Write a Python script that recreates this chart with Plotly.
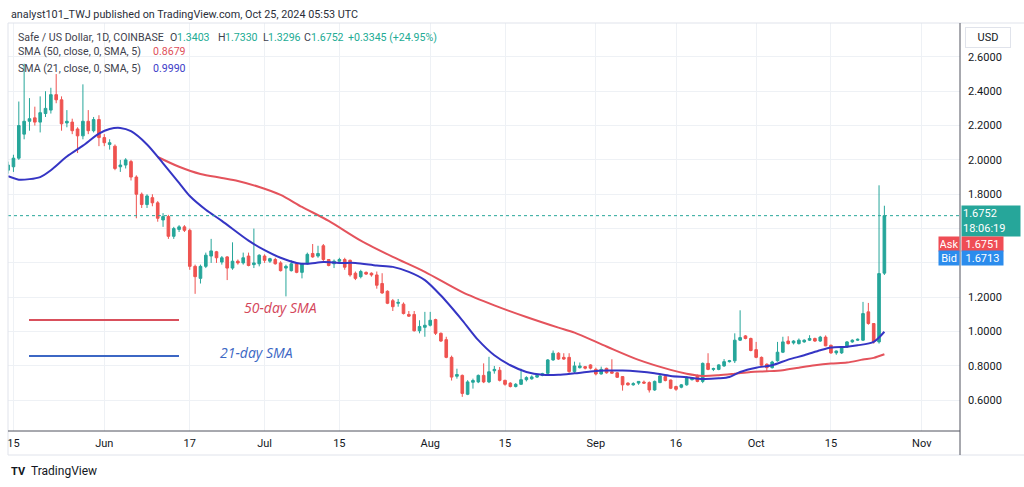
import plotly.graph_objects as go
import pandas as pd

# ---------------- data ----------------
dates = pd.date_range("2024-05-14", "2024-10-25", freq="D")

opens = [
    # May 14-31
    1.94, 1.96, 2.01, 2.15, 2.225, 2.245, 2.22, 2.27, 2.29, 2.38, 2.35, 2.215, 2.22, 2.18, 2.14, 2.225, 2.17, 2.235,
    # Jun
    2.13, 2.09, 2.08, 1.96, 1.97, 1.99, 1.90, 1.80, 1.74, 1.78, 1.75, 1.65, 1.67, 1.555, 1.595, 1.61, 1.59, 1.38, 1.31, 1.38,
    1.44, 1.465, 1.405, 1.435, 1.37, 1.41, 1.40, 1.44, 1.39, 1.395,
    # Jul
    1.44, 1.41, 1.42, 1.40, 1.37, 1.355, 1.395, 1.345, 1.395, 1.455, 1.44, 1.50, 1.42, 1.395, 1.41, 1.42, 1.415, 1.34, 1.32, 1.345,
    1.34, 1.33, 1.28, 1.235, 1.18, 1.165, 1.16, 1.10, 1.10, 1.005, 1.025,
    # Aug
    1.037, 1.07, 0.99, 0.953, 0.85, 0.74, 0.745, 0.635, 0.705, 0.707, 0.745, 0.707, 0.772, 0.775, 0.716, 0.70, 0.68, 0.693, 0.72, 0.725,
    0.735, 0.745, 0.757, 0.835, 0.874, 0.85, 0.85, 0.767, 0.79, 0.796, 0.806,
    # Sep
    0.78, 0.753, 0.786, 0.766, 0.76, 0.738, 0.70, 0.69, 0.70, 0.706, 0.703, 0.66, 0.703, 0.738, 0.718, 0.68, 0.676, 0.69, 0.72, 0.742,
    0.71, 0.815, 0.78, 0.78, 0.80, 0.825, 0.83, 0.95, 0.975, 0.96,
    # Oct 1-25
    0.895, 0.85, 0.81, 0.79, 0.83, 0.88, 0.945, 0.934, 0.93, 0.94, 0.95, 0.96, 0.945, 0.968, 0.92, 0.876, 0.876, 0.91, 0.94, 0.95,
    0.95, 1.115, 1.047, 0.94, 1.3403,
]
highs = [
    1.99, 2.03, 2.34, 2.56, 2.36, 2.31, 2.37, 2.40, 2.42, 2.50, 2.37, 2.29, 2.24, 2.19, 2.44, 2.29, 2.25, 2.26,
    2.15, 2.12, 2.09, 2.00, 2.01, 2.00, 1.91, 1.81, 1.80, 1.80, 1.76, 1.69, 1.68, 1.61, 1.62, 1.62, 1.60, 1.39, 1.39, 1.46,
    1.54, 1.47, 1.44, 1.44, 1.52, 1.42, 1.46, 1.46, 1.60, 1.45,
    1.45, 1.43, 1.43, 1.41, 1.39, 1.415, 1.40, 1.40, 1.46, 1.51, 1.50, 1.51, 1.42, 1.42, 1.43, 1.43, 1.42, 1.35, 1.36, 1.35,
    1.345, 1.35, 1.34, 1.24, 1.19, 1.19, 1.17, 1.12, 1.12, 1.066, 1.115,
    1.115, 1.075, 0.995, 0.97, 0.86, 0.784, 0.75, 0.717, 0.726, 0.75, 0.815, 0.853, 0.80, 0.794, 0.72, 0.705, 0.70, 0.784, 0.74, 0.745,
    0.75, 0.76, 0.84, 0.89, 0.88, 0.874, 0.874, 0.825, 0.82, 0.80, 0.81,
    0.79, 0.796, 0.79, 0.839, 0.765, 0.74, 0.705, 0.705, 0.71, 0.715, 0.71, 0.715, 0.75, 0.745, 0.72, 0.685, 0.695, 0.74, 0.735, 0.75,
    0.82, 0.874, 0.79, 0.81, 0.84, 0.835, 0.99, 1.124, 0.98, 0.965,
    0.94, 0.855, 0.815, 0.83, 0.94, 0.97, 0.973, 0.95, 0.96, 0.955, 0.979, 0.965, 0.975, 0.978, 0.925, 0.89, 0.915, 0.945, 0.955, 0.96,
    1.173, 1.167, 1.05, 1.852, 1.7330,
]
lows = [
    1.92, 1.93, 2.00, 2.12, 2.17, 2.20, 2.16, 2.25, 2.27, 2.33, 2.17, 2.19, 2.15, 2.04, 2.12, 2.15, 2.16, 2.08,
    2.08, 2.06, 1.94, 1.93, 1.95, 1.88, 1.66, 1.72, 1.72, 1.73, 1.64, 1.61, 1.54, 1.54, 1.58, 1.58, 1.36, 1.22, 1.28, 1.37,
    1.40, 1.40, 1.39, 1.30, 1.36, 1.39, 1.39, 1.38, 1.37, 1.38,
    1.40, 1.40, 1.39, 1.35, 1.205, 1.35, 1.34, 1.31, 1.39, 1.43, 1.43, 1.41, 1.38, 1.37, 1.40, 1.36, 1.32, 1.30, 1.31, 1.33,
    1.32, 1.25, 1.22, 1.16, 1.12, 1.145, 1.10, 1.085, 1.00, 0.99, 0.97,
    1.03, 0.98, 0.94, 0.845, 0.715, 0.726, 0.62, 0.63, 0.668, 0.70, 0.70, 0.70, 0.755, 0.71, 0.685, 0.675, 0.675, 0.69, 0.71, 0.72,
    0.73, 0.74, 0.75, 0.83, 0.835, 0.835, 0.76, 0.76, 0.785, 0.78, 0.78,
    0.745, 0.75, 0.755, 0.755, 0.73, 0.656, 0.685, 0.685, 0.69, 0.695, 0.645, 0.655, 0.70, 0.71, 0.665, 0.655, 0.67, 0.685, 0.715, 0.705,
    0.70, 0.775, 0.77, 0.775, 0.795, 0.82, 0.817, 0.945, 0.955, 0.885,
    0.845, 0.80, 0.765, 0.785, 0.825, 0.875, 0.925, 0.925, 0.925, 0.935, 0.945, 0.94, 0.94, 0.915, 0.87, 0.865, 0.87, 0.905, 0.935, 0.945,
    0.945, 1.04, 0.93, 0.93, 1.3296,
]
closes = [
    1.97, 2.01, 2.20, 2.225, 2.24, 2.22, 2.275, 2.30, 2.38, 2.35, 2.21, 2.225, 2.17, 2.14, 2.225, 2.17, 2.235, 2.13,
    2.10, 2.10, 1.95, 1.97, 2.00, 1.90, 1.80, 1.74, 1.79, 1.75, 1.66, 1.67, 1.555, 1.60, 1.61, 1.59, 1.38, 1.32, 1.38, 1.445,
    1.47, 1.43, 1.43, 1.37, 1.41, 1.40, 1.43, 1.385, 1.40, 1.445,
    1.415, 1.425, 1.395, 1.355, 1.38, 1.395, 1.345, 1.395, 1.45, 1.435, 1.455, 1.42, 1.385, 1.41, 1.42, 1.375, 1.33, 1.31, 1.35, 1.335,
    1.33, 1.27, 1.225, 1.165, 1.145, 1.17, 1.105, 1.09, 1.005, 1.03, 1.037,
    1.066, 0.99, 0.945, 0.85, 0.735, 0.75, 0.64, 0.707, 0.715, 0.745, 0.707, 0.766, 0.78, 0.716, 0.693, 0.68, 0.693, 0.72, 0.732, 0.736,
    0.745, 0.755, 0.835, 0.874, 0.84, 0.84, 0.767, 0.80, 0.80, 0.787, 0.787,
    0.753, 0.78, 0.76, 0.758, 0.734, 0.69, 0.69, 0.697, 0.71, 0.70, 0.66, 0.71, 0.742, 0.715, 0.67, 0.664, 0.69, 0.734, 0.73, 0.71,
    0.815, 0.78, 0.785, 0.806, 0.825, 0.83, 0.95, 0.965, 0.96, 0.89,
    0.85, 0.804, 0.79, 0.823, 0.88, 0.94, 0.93, 0.945, 0.95, 0.95, 0.96, 0.945, 0.968, 0.917, 0.876, 0.887, 0.91, 0.94, 0.95, 0.955,
    1.105, 1.047, 0.94, 1.338, 1.6752,
]

sma21_dates = ["2024-05-14", "2024-05-16", "2024-05-18", "2024-05-20", "2024-05-22", "2024-05-25", "2024-05-28",
               "2024-05-31", "2024-06-02", "2024-06-04", "2024-06-06", "2024-06-09", "2024-06-12", "2024-06-15",
               "2024-06-17", "2024-06-20", "2024-06-23", "2024-06-28", "2024-07-01", "2024-07-04", "2024-07-07",
               "2024-07-09", "2024-07-12", "2024-07-15", "2024-07-18", "2024-07-22", "2024-07-25", "2024-07-28",
               "2024-07-31", "2024-08-03", "2024-08-07", "2024-08-10", "2024-08-13", "2024-08-16", "2024-08-19",
               "2024-08-22", "2024-08-25", "2024-08-28", "2024-08-31", "2024-09-03", "2024-09-06", "2024-09-09",
               "2024-09-12", "2024-09-15", "2024-09-18", "2024-09-21", "2024-09-24", "2024-09-26", "2024-09-28",
               "2024-10-01", "2024-10-04", "2024-10-07", "2024-10-10", "2024-10-13", "2024-10-15", "2024-10-18",
               "2024-10-20", "2024-10-23", "2024-10-25"]
sma21_values = [1.905, 1.885, 1.888, 1.90, 1.94, 2.02, 2.083,
                2.153, 2.18, 2.186, 2.167, 2.09, 1.98, 1.866,
                1.79, 1.71, 1.645, 1.53, 1.474, 1.43, 1.40,
                1.395, 1.405, 1.40, 1.40, 1.385, 1.377, 1.348,
                1.30, 1.21, 1.066, 0.95, 0.862, 0.804, 0.765,
                0.748, 0.748, 0.757, 0.767, 0.773, 0.773, 0.767,
                0.757, 0.742, 0.734, 0.724, 0.728, 0.736, 0.765,
                0.79, 0.804, 0.837, 0.862, 0.891, 0.907, 0.912,
                0.92, 0.94, 0.999]

sma50_dates = ["2024-06-11", "2024-06-15", "2024-06-19", "2024-06-23", "2024-06-26", "2024-06-30", "2024-07-04",
               "2024-07-08", "2024-07-13", "2024-07-19", "2024-07-25", "2024-07-31", "2024-08-07", "2024-08-13",
               "2024-08-19", "2024-08-25", "2024-08-28", "2024-09-03", "2024-09-09", "2024-09-15", "2024-09-18",
               "2024-09-21", "2024-09-24", "2024-09-27", "2024-09-30", "2024-10-03", "2024-10-06", "2024-10-09",
               "2024-10-12", "2024-10-15", "2024-10-18", "2024-10-21", "2024-10-23", "2024-10-25"]
sma50_values = [2.017, 1.96, 1.918, 1.895, 1.877, 1.842, 1.796,
                1.726, 1.645, 1.53, 1.435, 1.348, 1.23, 1.153,
                1.085, 1.023, 0.994, 0.913, 0.835, 0.777, 0.755,
                0.742, 0.746, 0.755, 0.765, 0.769, 0.775, 0.79,
                0.804, 0.814, 0.82, 0.837, 0.847, 0.868]

price_ticks = [0.6, 0.8, 1.0, 1.2, 1.4, 1.6, 1.8, 2.0, 2.2, 2.4, 2.6]
# 1.4000 and 1.6000 sit behind the price / Ask / Bid labels in the reference
price_tick_text = ["0.6000", "0.8000", "1.0000", "1.2000", "", "", "1.8000", "2.0000", "2.2000", "2.4000", "2.6000"]
date_ticks = ["2024-05-15", "2024-06-01", "2024-06-17", "2024-07-01", "2024-07-15", "2024-08-01",
              "2024-08-15", "2024-09-01", "2024-09-16", "2024-10-01", "2024-10-15", "2024-11-01"]
date_tick_text = ["15", "Jun", "17", "Jul", "15", "Aug", "15", "Sep", "16", "Oct", "15", "Nov"]

last_price = 1.6752

# ---------------- style ----------------
UP = "#26a69a"
DOWN = "#ef5350"
GRID = "#eef1f5"
SMA50_C = "#e4535c"
SMA21_C = "#3535c4"
TXT = "#131722"
FONT = "Roboto"

L, R, T, B = 8, 960, 23, 431
W, H = 1024, 487


def px(x):
    return (x - L) / (R - L)


def py(y):
    return (B - y) / (B - T)


fig = go.Figure()
fig.add_trace(go.Candlestick(
    x=dates, open=opens, high=highs, low=lows, close=closes,
    increasing=dict(line=dict(color=UP, width=1), fillcolor=UP),
    decreasing=dict(line=dict(color=DOWN, width=1), fillcolor=DOWN),
    whiskerwidth=0, hoverinfo="skip",
))
fig.add_trace(go.Scatter(x=sma50_dates, y=sma50_values, mode="lines",
                         line=dict(color=SMA50_C, width=2, shape="spline", smoothing=0.8), hoverinfo="skip"))
fig.add_trace(go.Scatter(x=sma21_dates, y=sma21_values, mode="lines",
                         line=dict(color=SMA21_C, width=2, shape="spline", smoothing=0.8), hoverinfo="skip"))

shapes = []
# dotted last price line
shapes.append(dict(type="line", xref="paper", x0=0, x1=1, yref="y", y0=last_price, y1=last_price,
                   line=dict(color=UP, width=1, dash="dot")))
# frame
shapes.append(dict(type="line", xref="paper", yref="paper", x0=px(8), x1=px(1024), y0=py(23), y1=py(23),
                   line=dict(color="#e0e3eb", width=1)))
shapes.append(dict(type="line", xref="paper", yref="paper", x0=px(8), x1=px(8), y0=py(23), y1=py(455),
                   line=dict(color="#e0e3eb", width=1)))
shapes.append(dict(type="line", xref="paper", yref="paper", x0=px(8), x1=px(1024), y0=py(455), y1=py(455),
                   line=dict(color="#e0e3eb", width=1)))
shapes.append(dict(type="line", xref="paper", yref="paper", x0=px(960), x1=px(960), y0=py(23), y1=py(455),
                   line=dict(color="#50535e", width=1)))
shapes.append(dict(type="line", xref="paper", yref="paper", x0=px(8), x1=px(960), y0=py(431), y1=py(431),
                   line=dict(color="#50535e", width=1)))
# hand-drawn legend lines
shapes.append(dict(type="line", xref="paper", yref="paper", x0=px(29), x1=px(179), y0=py(320), y1=py(320),
                   line=dict(color="#d9505c", width=2)))
shapes.append(dict(type="line", xref="paper", yref="paper", x0=px(29), x1=px(179), y0=py(356), y1=py(356),
                   line=dict(color="#3c67c4", width=2)))

annotations = []


def ann(x, y, text, color=TXT, size=11, family=FONT, xanchor="left", **kw):
    d = dict(xref="paper", yref="paper", x=px(x), y=py(y), text=text, showarrow=False,
             xanchor=xanchor, yanchor="middle", font=dict(family=family, size=size, color=color))
    d.update(kw)
    annotations.append(d)


# header
ann(9, 14, "analyst101_TWJ published on TradingView.com, Oct 25, 2024 05:53 UTC", color="#2a2e39", size=10.8)
LBL = "#3e414c"
VAL = "#22ab94"
HS = 10.6
ann(16, 37, "Safe / US Dollar, 1D, COINBASE", color=LBL, size=HS)
ann(168, 37, "O", color=LBL, size=HS)
ann(175, 37, "1.3403", color=VAL, size=HS)
ann(216, 37, "H", color=LBL, size=HS)
ann(223, 37, "1.7330", color=VAL, size=HS)
ann(261, 37, "L", color=LBL, size=HS)
ann(266, 37, "1.3296", color=VAL, size=HS)
ann(302, 37, "C", color=LBL, size=HS)
ann(309, 37, "1.6752", color=VAL, size=HS)
ann(346, 37, "+0.3345 (+24.95%)", color=VAL, size=HS)
ann(16, 52, "SMA (50, close, 0, SMA, 5)", color=LBL, size=HS)
ann(151, 52, "0.8679", color="#e0505a", size=HS)
ann(16, 68, "SMA (21, close, 0, SMA, 5)", color=LBL, size=HS)
ann(151, 68, "0.9990", color="#3c3cc8", size=HS)

# legend texts
ann(242, 307, "<i>50-day SMA</i>", color="#d4465a", size=14, family="Open Sans")
ann(218, 352, "<i>21-day SMA</i>", color="#3c67c4", size=14, family="Open Sans")

# USD box
ann(988, 38, "USD", color=TXT, size=11, xanchor="center", bgcolor="white", bordercolor="#e0e3eb",
    borderwidth=1, borderpad=3, width=38)

# price labels
ann(961, 221, "1.6752<br>18:06:19", color="white", size=11, bgcolor=UP, width=56, height=28,
    align="left", borderpad=1)
ann(938, 244, "Ask", color="white", size=11, bgcolor="#ef4d55", width=18, height=12, borderpad=1)
ann(961, 244, "1.6751", color="white", size=11, bgcolor="#ef4d55", width=39, height=12, borderpad=1)
ann(938, 258, "Bid", color="white", size=11, bgcolor="#2b8ced", width=18, height=12, borderpad=1)
ann(961, 258, "1.6713", color="white", size=11, bgcolor="#2b8ced", width=39, height=12, borderpad=1)

# TradingView logo
ann(9, 471, "<b>TV</b>", color=TXT, size=11, family="Roboto")
ann(29, 471, "TradingView", color=TXT, size=12, family="Roboto")

fig.update_layout(
    width=W, height=H, autosize=False,
    margin=dict(l=L, r=W - R, t=T, b=H - B, pad=0),
    paper_bgcolor="white", plot_bgcolor="white",
    showlegend=False,
    shapes=shapes, annotations=annotations,
    xaxis=dict(
        type="date", range=["2024-05-13 23:30", "2024-11-08 03:40"],
        tickvals=date_ticks, ticktext=date_tick_text,
        showgrid=True, gridcolor=GRID, gridwidth=1, ticks="", zeroline=False, showline=False,
        tickfont=dict(family=FONT, size=11, color=TXT), ticklabelstandoff=4,
        rangeslider=dict(visible=False), fixedrange=True,
    ),
    yaxis=dict(
        side="right", range=[0.4211, 2.7973],
        tickvals=price_ticks, ticktext=price_tick_text,
        showgrid=True, gridcolor=GRID, gridwidth=1, ticks="", zeroline=False, showline=False,
        tickfont=dict(family=FONT, size=11, color=TXT), ticklabelstandoff=7, fixedrange=True,
    ),
)

fig.write_html("out.html")
